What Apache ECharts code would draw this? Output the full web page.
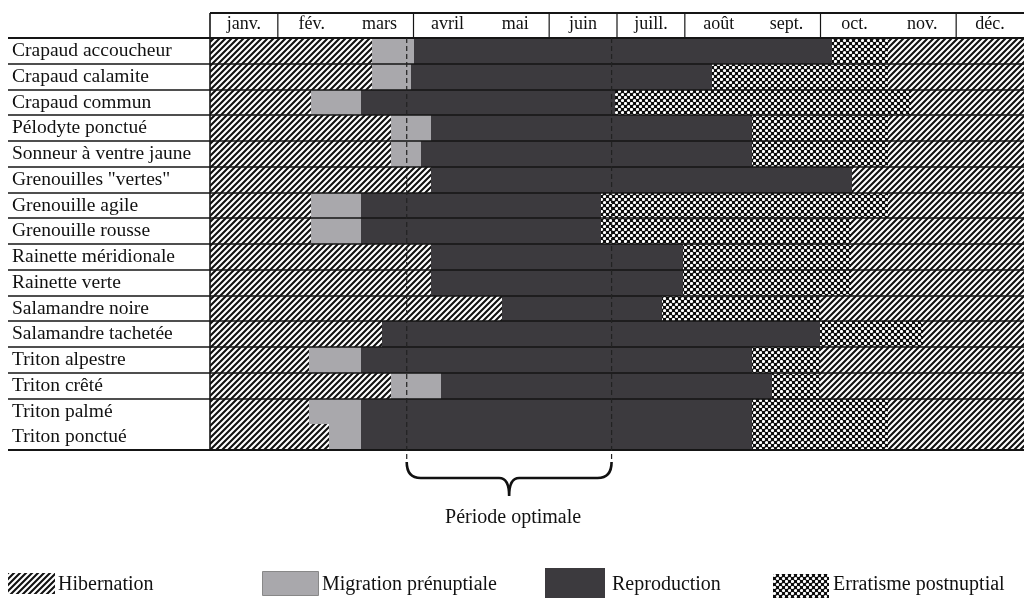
<!DOCTYPE html>
<html>
<head>
<meta charset="utf-8">
<script src="https://cdn.jsdelivr.net/npm/echarts@6/dist/echarts.min.js"></script>
<style>html,body{margin:0;padding:0;background:#fff;}#chart{width:1024px;height:600px;}</style>
</head>
<body>
<div id="chart"></div>
<script>
// ---- Data ----
const months = ['janv.', 'fév.', 'mars', 'avril', 'mai', 'juin', 'juill.', 'août', 'sept.', 'oct.', 'nov.', 'déc.'];
const species = ['Crapaud accoucheur', 'Crapaud calamite', 'Crapaud commun', 'Pélodyte ponctué',
  'Sonneur à ventre jaune', 'Grenouilles "vertes"', 'Grenouille agile', 'Grenouille rousse',
  'Rainette méridionale', 'Rainette verte', 'Salamandre noire', 'Salamandre tachetée',
  'Triton alpestre', 'Triton crêté', 'Triton palmé', 'Triton ponctué'];
// phase boundaries, in months from 1 January (0) to 31 December (12)
const hibernationEnd = [2.39, 2.39, 1.49, 2.67, 2.67, 3.26, 1.49, 1.49, 3.26, 3.26, 4.31, 2.53, 1.46, 2.67, 1.46, 1.75];
const migrationEnd   = [3.00, 2.96, 2.22, 3.26, 3.11, 3.26, 2.22, 2.22, 3.26, 3.26, 4.31, 2.53, 2.22, 3.40, 2.22, 2.22];
const reproductionEnd= [9.17, 7.40, 5.97, 7.99, 7.99, 9.47, 5.77, 5.77, 6.98, 6.98, 6.66, 8.99, 7.99, 8.29, 7.99, 7.99];
const erratismEnd    = [10.0, 10.0, 10.34, 10.0, 10.0, 9.47, 10.0, 9.45, 9.45, 9.45, 8.99, 10.51, 8.99, 8.99, 10.0, 10.0];
const optimalPeriod = [2.9, 5.92];
const headerDividers = [0, 1, 3, 5, 6, 7, 9, 11];   // month boundaries drawn in the header
const rowLines = [0, 1, 2, 3, 4, 5, 6, 7, 8, 9, 10, 11, 12, 13, 15]; // rows followed by a separator
const phaseNames = ['Hibernation', 'Migration prénuptiale', 'Reproduction', 'Erratisme postnuptial'];

// ---- Patterns ----
function hatchCanvas() {
  const s = 6, c = document.createElement('canvas'); c.width = s; c.height = s;
  const g = c.getContext('2d'); g.fillStyle = '#fff'; g.fillRect(0, 0, s, s);
  g.strokeStyle = '#111'; g.lineWidth = 2.1;
  g.beginPath();
  g.moveTo(0, s); g.lineTo(s, 0);
  g.moveTo(-1, 1); g.lineTo(1, -1);
  g.moveTo(s - 1, s + 1); g.lineTo(s + 1, s - 1);
  g.stroke();
  return c;
}
function crossCanvas() {
  const s = 6, c = document.createElement('canvas'); c.width = s; c.height = s;
  const g = c.getContext('2d'); g.fillStyle = '#0d0d0d'; g.fillRect(0, 0, s, s);
  g.fillStyle = '#fff';
  [[1.5, 1.5], [4.5, 4.5]].forEach(p => { g.beginPath(); g.arc(p[0], p[1], 1.6, 0, Math.PI * 2); g.fill(); });
  return c;
}
const fills = [
  { image: hatchCanvas(), repeat: 'repeat' },
  '#a9a8ac',
  '#3c3a3e',
  { image: crossCanvas(), repeat: 'repeat' }
];

// segments [row, start, end]
function segs(phase) {
  const out = [];
  species.forEach((s, i) => {
    const b = [0, hibernationEnd[i], migrationEnd[i], reproductionEnd[i], erratismEnd[i], 12];
    if (phase === 0) { out.push([i, b[0], b[1]]); if (b[5] > b[4]) out.push([i, b[4], b[5]]); }
    else if (b[phase + 1] > b[phase]) out.push([i, b[phase], b[phase + 1]]);
  });
  return out;
}

const SERIF = '"Liberation Serif", "Times New Roman", serif';
const chart = echarts.init(document.getElementById('chart'), null, { renderer: 'canvas' });

function segRender(phase) {
  return function (params, api) {
    const y = api.value(0);
    const p0 = api.coord([api.value(1), y]);
    const p1 = api.coord([api.value(2), y]);
    const h = api.size([0, 1])[1];
    const x0 = Math.round(p0[0]), x1 = Math.round(p1[0]);
    const y0 = Math.round(p0[1] - h / 2), y1 = Math.round(p0[1] + h / 2);
    return { type: 'rect', shape: { x: x0, y: y0, width: x1 - x0, height: y1 - y0 },
      style: { fill: fills[phase] } };
  };
}

const series = [0, 1, 2, 3].map(ph => ({
  type: 'custom', name: phaseNames[ph], xAxisIndex: 0, yAxisIndex: 0, clip: false, z: 2,
  renderItem: segRender(ph), data: segs(ph), encode: { x: [1, 2], y: 0 }
}));

// row separator lines
series.push({
  type: 'custom', xAxisIndex: 0, yAxisIndex: 0, clip: false, z: 5, silent: true,
  data: rowLines.map(r => [r]),
  renderItem: function (params, api) {
    const r = api.value(0);
    const c = api.coord([0, r]); const h = api.size([0, 1])[1];
    const yy = Math.round(c[1] + h / 2);
    const last = r === species.length - 1;
    return { type: 'line', shape: { x1: 8, y1: yy, x2: 1040, y2: yy },
      style: { stroke: '#151515', lineWidth: last ? 2 : 1.3 } };
  }
});

// header frame + dividers
series.push({
  type: 'custom', xAxisIndex: 0, yAxisIndex: 0, clip: false, z: 5, silent: true,
  data: headerDividers.map(m => [m]),
  renderItem: function (params, api) {
    const m = api.value(0);
    const c = api.coord([m, 0]); const h = api.size([0, 1])[1];
    const gridTop = c[1] - h / 2;
    const children = [];
    const bottom = m === 0 ? api.coord([0, species.length - 1])[1] + h / 2 : gridTop;
    children.push({ type: 'line', shape: { x1: c[0], y1: gridTop - 25, x2: c[0], y2: bottom },
      style: { stroke: '#151515', lineWidth: m === 0 ? 1.6 : 1.2 } });
    if (m === 0) {
      children.push({ type: 'line', shape: { x1: c[0], y1: gridTop - 25, x2: 1040, y2: gridTop - 25 },
        style: { stroke: '#151515', lineWidth: 2 } });
      children.push({ type: 'line', shape: { x1: 8, y1: gridTop, x2: 1040, y2: gridTop },
        style: { stroke: '#151515', lineWidth: 2 } });
    }
    return { type: 'group', children: children };
  }
});

// optimal period: dashed lines + brace + label
series.push({
  type: 'custom', xAxisIndex: 0, yAxisIndex: 0, clip: false, z: 6, silent: true,
  data: [optimalPeriod],
  renderItem: function (params, api) {
    const a = api.coord([api.value(0), 0]);
    const b = api.coord([api.value(1), species.length - 1]);
    const h = api.size([0, 1])[1];
    const top = a[1] - h / 2, bot = b[1] + h / 2;
    const xl = a[0], xr = b[0], xm = (xl + xr) / 2;
    const y0 = bot + 12, y1 = bot + 28, y2 = bot + 46;
    const brace = `M${xl},${y0} Q${xl},${y1} ${xl + 14},${y1} L${xm - 10},${y1} Q${xm},${y1} ${xm},${y2} ` +
      `Q${xm},${y1} ${xm + 10},${y1} L${xr - 14},${y1} Q${xr},${y1} ${xr},${y0}`;
    return { type: 'group', children: [
      { type: 'line', shape: { x1: xl, y1: top, x2: xl, y2: y0 }, style: { stroke: '#222', lineWidth: 1.2, lineDash: [5, 3] } },
      { type: 'line', shape: { x1: xr, y1: top, x2: xr, y2: y0 }, style: { stroke: '#222', lineWidth: 1.2, lineDash: [5, 3] } },
      { type: 'path', shape: { pathData: brace }, style: { stroke: '#111', lineWidth: 2.6, fill: null } },
      { type: 'text', x: xm + 4, y: bot + 68, style: { text: 'Période optimale', font: '20px ' + SERIF, fill: '#111',
        align: 'center', verticalAlign: 'middle' } }
    ] };
  }
});

// legend drawn as graphics
const legendItems = [
  { x: 8, y: 573, w: 47, h: 21, tx: 58 },
  { x: 262, y: 571, w: 56, h: 24, tx: 322 },
  { x: 545, y: 568, w: 60, h: 30, tx: 612 },
  { x: 773, y: 574, w: 56, h: 24, tx: 833 }
];
const graphic = [];
legendItems.forEach((it, i) => {
  graphic.push({ type: 'rect', left: it.x, top: it.y, shape: { width: it.w, height: it.h },
    style: { fill: fills[i], stroke: i === 1 ? '#888' : null, lineWidth: 1 } });
  graphic.push({ type: 'text', left: it.tx, top: 575, style: { text: phaseNames[i], font: '20px ' + SERIF, fill: '#111' } });
});

chart.setOption({
  animation: false,
  backgroundColor: '#fff',
  grid: { left: 210, top: 38, width: 824, height: 412, containLabel: false },
  xAxis: [
    { type: 'value', min: 0, max: 12, show: false },
    { type: 'category', data: months, position: 'top', boundaryGap: true,
      axisLine: { show: false }, axisTick: { show: false }, splitLine: { show: false },
      axisLabel: { margin: 5, fontFamily: SERIF, fontSize: 18, color: '#111', interval: 0 } }
  ],
  yAxis: {
    type: 'category', data: species, inverse: true,
    axisLine: { show: false }, axisTick: { show: false }, splitLine: { show: false },
    axisLabel: { align: 'left', margin: 198, fontFamily: SERIF, fontSize: 19.5, color: '#111', interval: 0 }
  },
  graphic: graphic,
  series: series
});
</script>
</body>
</html>
